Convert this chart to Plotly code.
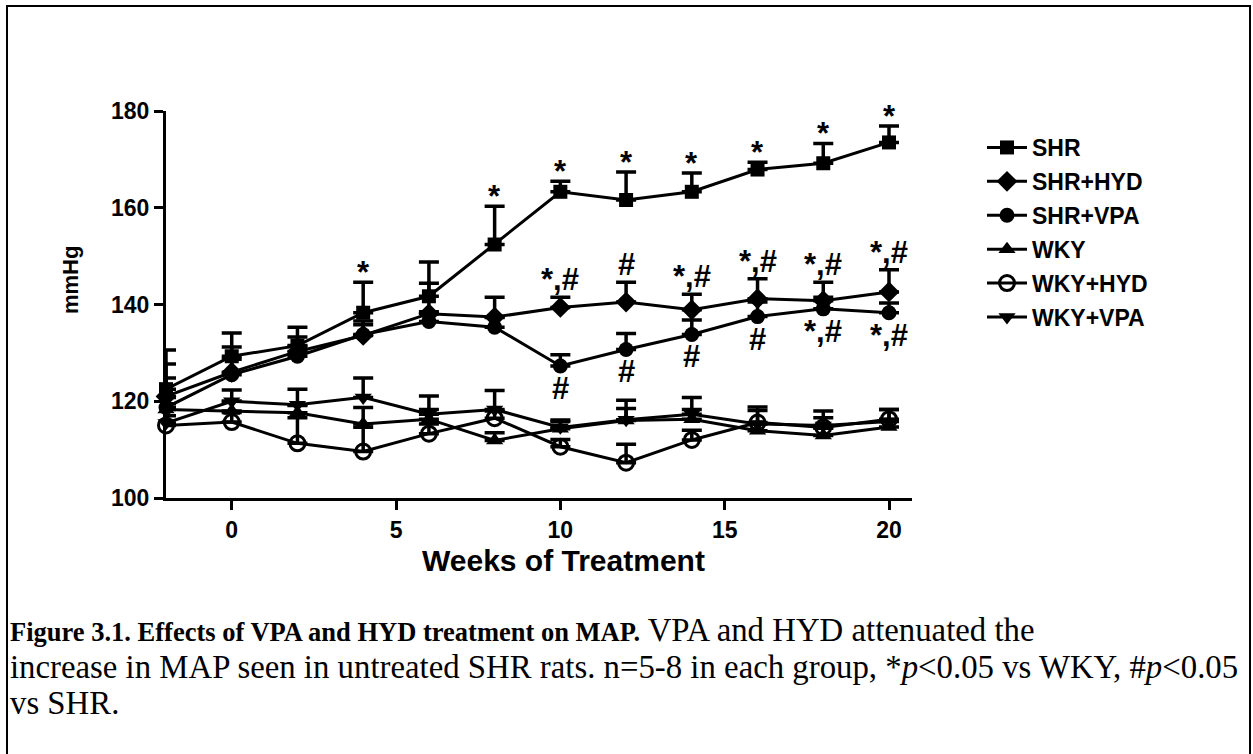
import plotly.graph_objects as go

weeks = [-2, 0, 2, 4, 6, 8, 10, 12, 14, 16, 18, 20]

shr = [122.5, 129.3, 131.5, 138.3, 141.7, 152.4, 163.3, 161.6, 163.3, 167.9, 169.2, 173.5]
shr_err = [8.1, 4.8, 3.8, 6.3, 7.1, 7.9, 2.2, 5.8, 3.9, 1.5, 4.1, 3.4]

shr_hyd = [121.0, 126.0, 130.3, 133.6, 138.1, 137.4, 139.4, 140.5, 138.9, 141.2, 140.8, 142.6]
shr_hyd_err = [6.7, 5.2, 3.0, 3.0, 6.3, 4.1, 2.1, 4.1, 3.2, 4.1, 3.8, 4.6]

shr_vpa = [118.7, 125.5, 129.3, 133.8, 136.5, 135.3, 127.3, 130.7, 133.8, 137.5, 139.1, 138.3]
shr_vpa_err = [6.1, 3.2, 2.0, 2.0, 2.0, 2.0, 2.3, 3.3, 3.0, 3.0, 2.4, 2.0]

wky = [118.3, 118.0, 117.6, 115.3, 116.3, 111.9, 114.3, 116.0, 116.3, 113.9, 112.9, 114.7]
wky_err = [2.5, 2.0, 1.5, 3.4, 2.0, 1.6, 1.5, 2.5, 2.0, 1.5, 1.5, 1.5]

wky_hyd = [115.0, 115.7, 111.3, 109.6, 113.3, 116.5, 110.6, 107.3, 112.0, 115.6, 114.6, 116.3]
wky_hyd_err = [2.0, 2.0, 5.3, 5.0, 2.0, 1.5, 1.5, 3.8, 2.0, 2.5, 2.0, 2.0]

wky_vpa = [115.5, 120.0, 119.3, 120.8, 117.3, 118.3, 114.6, 116.2, 117.3, 115.3, 115.0, 115.8]
wky_vpa_err = [4.0, 2.3, 3.2, 4.0, 3.8, 3.9, 1.5, 4.0, 3.5, 3.5, 3.0, 2.5]

series_names = ["SHR", "SHR+HYD", "SHR+VPA", "WKY", "WKY+HYD", "WKY+VPA"]

x_ticks = [0, 5, 10, 15, 20]
y_ticks = [100, 120, 140, 160, 180]

# significance labels
shr_star_weeks = [4, 8, 10, 12, 14, 16, 18, 20]
hyd_labels = {10: "*,#", 12: "#", 14: "*,#", 16: "*,#", 18: "*,#", 20: "*,#"}
vpa_labels = {10: "#", 12: "#", 14: "#", 16: "#", 18: "*,#", 20: "*,#"}

caption_lines = [
    "<span style='font-size:26.5px'><b>Figure 3.1. Effects of VPA and HYD treatment on MAP.</b></span> VPA and HYD attenuated the",
    "increase in MAP seen in untreated SHR rats. n=5-8 in each group, *<i>p</i>&lt;0.05 vs WKY, #<i>p</i>&lt;0.05",
    "vs SHR.",
]

styles = [
    dict(symbol="square", size=14),
    dict(symbol="diamond", size=16),
    dict(symbol="circle", size=15),
    dict(symbol="triangle-up", size=15),
    dict(symbol="circle-open", size=15, line=dict(width=3, color="black")),
    dict(symbol="triangle-down", size=15),
]
values = [shr, shr_hyd, shr_vpa, wky, wky_hyd, wky_vpa]
errs = [shr_err, shr_hyd_err, shr_vpa_err, wky_err, wky_hyd_err, wky_vpa_err]

fig = go.Figure()
for name, st, v, e in zip(series_names, styles, values, errs):
    fig.add_trace(go.Scatter(
        x=weeks, y=v, name="<b>" + name + "</b>", mode="lines+markers", legendgroup=name,
        line=dict(color="black", width=3),
        marker=dict(color="black", **st),
        error_y=dict(type="data", symmetric=False, array=e, arrayminus=[0] * len(e),
                     color="black", thickness=3.5, width=10),
        cliponaxis=False,
    ))

# screen geometry (body margin removed by post_script)
FW, FH = 1253, 754
L, R, T, B = 166, 912, 111, 498   # plot area in screen px


def px(xs):
    return (xs - L) / (R - L)


def py(ys):
    return (B - ys) / (B - T)


ann = []
idx = {w: i for i, w in enumerate(weeks)}
sfont = dict(family="Liberation Sans, Arial", size=31, color="black")
for w in shr_star_weeks:
    i = idx[w]
    ann.append(dict(x=w, y=shr[i] + shr_err[i], text="<b>*</b>", showarrow=False,
                    xref="x", yref="y", yanchor="bottom", yshift=-10, font=sfont))
for w, t in hyd_labels.items():
    i = idx[w]
    ann.append(dict(x=w, y=shr_hyd[i] + shr_hyd_err[i], text="<b>" + t + "</b>", showarrow=False,
                    xref="x", yref="y", yanchor="bottom", yshift=-2, font=sfont))
for w, t in vpa_labels.items():
    i = idx[w]
    ann.append(dict(x=w, y=shr_vpa[i], text="<b>" + t + "</b>", showarrow=False,
                    xref="x", yref="y", yanchor="top", yshift=-3, font=sfont))

# axis titles
ann.append(dict(x=px(563), y=py(560), xref="paper", yref="paper", text="<b>Weeks of Treatment</b>",
                showarrow=False, xanchor="center", yanchor="middle",
                font=dict(family="Liberation Sans, Arial", size=30, color="black")))
ann.append(dict(x=px(70), y=py(280), xref="paper", yref="paper", text="<b>mmHg</b>",
                showarrow=False, xanchor="center", yanchor="middle", textangle=-90,
                font=dict(family="Liberation Sans, Arial", size=22, color="black")))

cap_ys = [630, 667, 703]
for line, yy in zip(caption_lines, cap_ys):
    ann.append(dict(x=px(8), y=py(yy), xref="paper", yref="paper", text=line, showarrow=False,
                    xanchor="left", yanchor="middle", align="left",
                    font=dict(family="Liberation Serif, Times New Roman", size=32.8, color="black")))

fig.update_layout(
    width=FW, height=FH,
    margin=dict(l=L, r=FW - R, t=T, b=FH - B, pad=0),
    paper_bgcolor="white", plot_bgcolor="white",
    showlegend=True,
    legend=dict(x=px(982), y=py(126), xanchor="left", yanchor="top",
                font=dict(family="Liberation Sans, Arial", size=23, color="black"),
                tracegroupgap=1, itemwidth=40, bgcolor="rgba(0,0,0,0)"),
    font=dict(family="Liberation Sans, Arial", color="black"),
    annotations=ann,
    shapes=[dict(type="rect", xref="paper", yref="paper",
                 x0=px(7), x1=px(1250), y0=py(770), y1=py(6),
                 line=dict(color="black", width=2), fillcolor="rgba(0,0,0,0)", layer="below")],
)
fig.update_xaxes(range=[-2, 20.7], tickvals=x_ticks, ticktext=["<b>%d</b>" % v for v in x_ticks],
                 showgrid=False, zeroline=False,
                 showline=True, linecolor="black", linewidth=3, ticks="outside", ticklen=9,
                 tickwidth=3, tickcolor="black",
                 tickfont=dict(family="Liberation Sans, Arial", size=23, color="black"))
fig.update_yaxes(range=[100, 180], tickvals=y_ticks, ticktext=["<b>%d</b>" % v for v in y_ticks],
                 showgrid=False, zeroline=False,
                 showline=True, linecolor="black", linewidth=3, ticks="outside", ticklen=9,
                 tickwidth=3, tickcolor="black",
                 tickfont=dict(family="Liberation Sans, Arial", size=23, color="black"))

fig.write_html("out.html", config={"displayModeBar": False},
               post_script="document.body.style.margin='0';")
